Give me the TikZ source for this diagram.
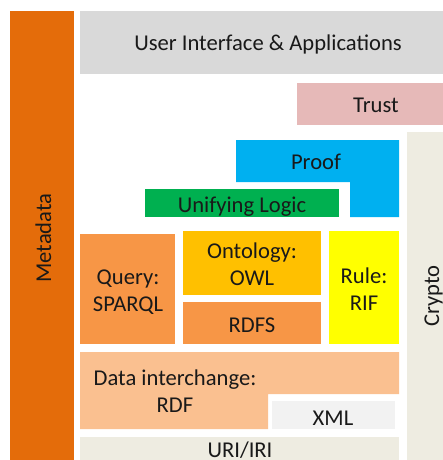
\documentclass[tikz,border=0pt]{standalone}
\usepackage{fontspec}
\setmainfont{Carlito}
\definecolor{metaorange}{HTML}{E46C0A}
\definecolor{uigray}{HTML}{D9D9D9}
\definecolor{trustpink}{HTML}{E6B9B8}
\definecolor{cryptobeige}{HTML}{EEECE1}
\definecolor{proofblue}{HTML}{00B0F0}
\definecolor{logicgreen}{HTML}{00B050}
\definecolor{queryorange}{HTML}{F79646}
\definecolor{owlgold}{HTML}{FFC000}
\definecolor{ruleyellow}{HTML}{FFFF00}
\definecolor{rdfpeach}{HTML}{FAC090}
\definecolor{xmlgray}{HTML}{F2F2F2}
\begin{document}
\begin{tikzpicture}[x=1pt, y=-1pt, every node/.style={font=\fontsize{22.6}{27}\selectfont, text=black!90, align=center, inner sep=0pt, anchor=base}]
    \useasboundingbox (0,0) rectangle (443,460);
    % Side columns
    \fill[metaorange] (10,11) rectangle (74,460);
    \node[rotate=90] (meta) at (51,238) {Metadata};
    \fill[cryptobeige] (407,132) rectangle (443,460);
    \node[rotate=90] (crypto) at (439,296) {Crypto};

    % Upper layers
    \fill[uigray] (80,11) rectangle (443,74);
    \node (ui) at (268,51) {User Interface \& Applications};
    \fill[trustpink] (297,83) rectangle (443,125);
    \node (trust) at (376,112) {Trust};
    \fill[proofblue] (236,140) -- (399,140) -- (399,217) -- (350,217) -- (350,182) -- (236,182) -- cycle;
    \node (proof) at (316,169) {Proof};
    \fill[logicgreen] (145,189) rectangle (339,217);
    \node (logic) at (242,212) {Unifying Logic};

    % Query, ontology and rules (base = last line)
    \fill[queryorange] (80,234) rectangle (175,344);
    \node (query) at (128,311) {Query:\\SPARQL};
    \fill[owlgold] (183,231) rectangle (321,295);
    \node (owl) at (252,285) {Ontology:\\OWL};
    \fill[queryorange] (183,302) rectangle (321,344);
    \node (rdfs) at (252,332) {RDFS};
    \fill[ruleyellow] (329,231) rectangle (399,344);
    \node (rif) at (364,310) {Rule:\\RIF};

    % Data interchange
    \fill[rdfpeach] (80,352) -- (399,352) -- (399,394) -- (268,394) -- (268,429) -- (80,429) -- cycle;
    \node (rdf) at (175,412) {Data interchange:\\RDF};
    \fill[xmlgray] (272,401) rectangle (395,429);
    \node (xml) at (333,425) {XML};

    % Identifiers
    \fill[cryptobeige] (80,437) rectangle (399,460);
    \node (uri) at (240,457) {URI/IRI};
\end{tikzpicture}
\end{document}
